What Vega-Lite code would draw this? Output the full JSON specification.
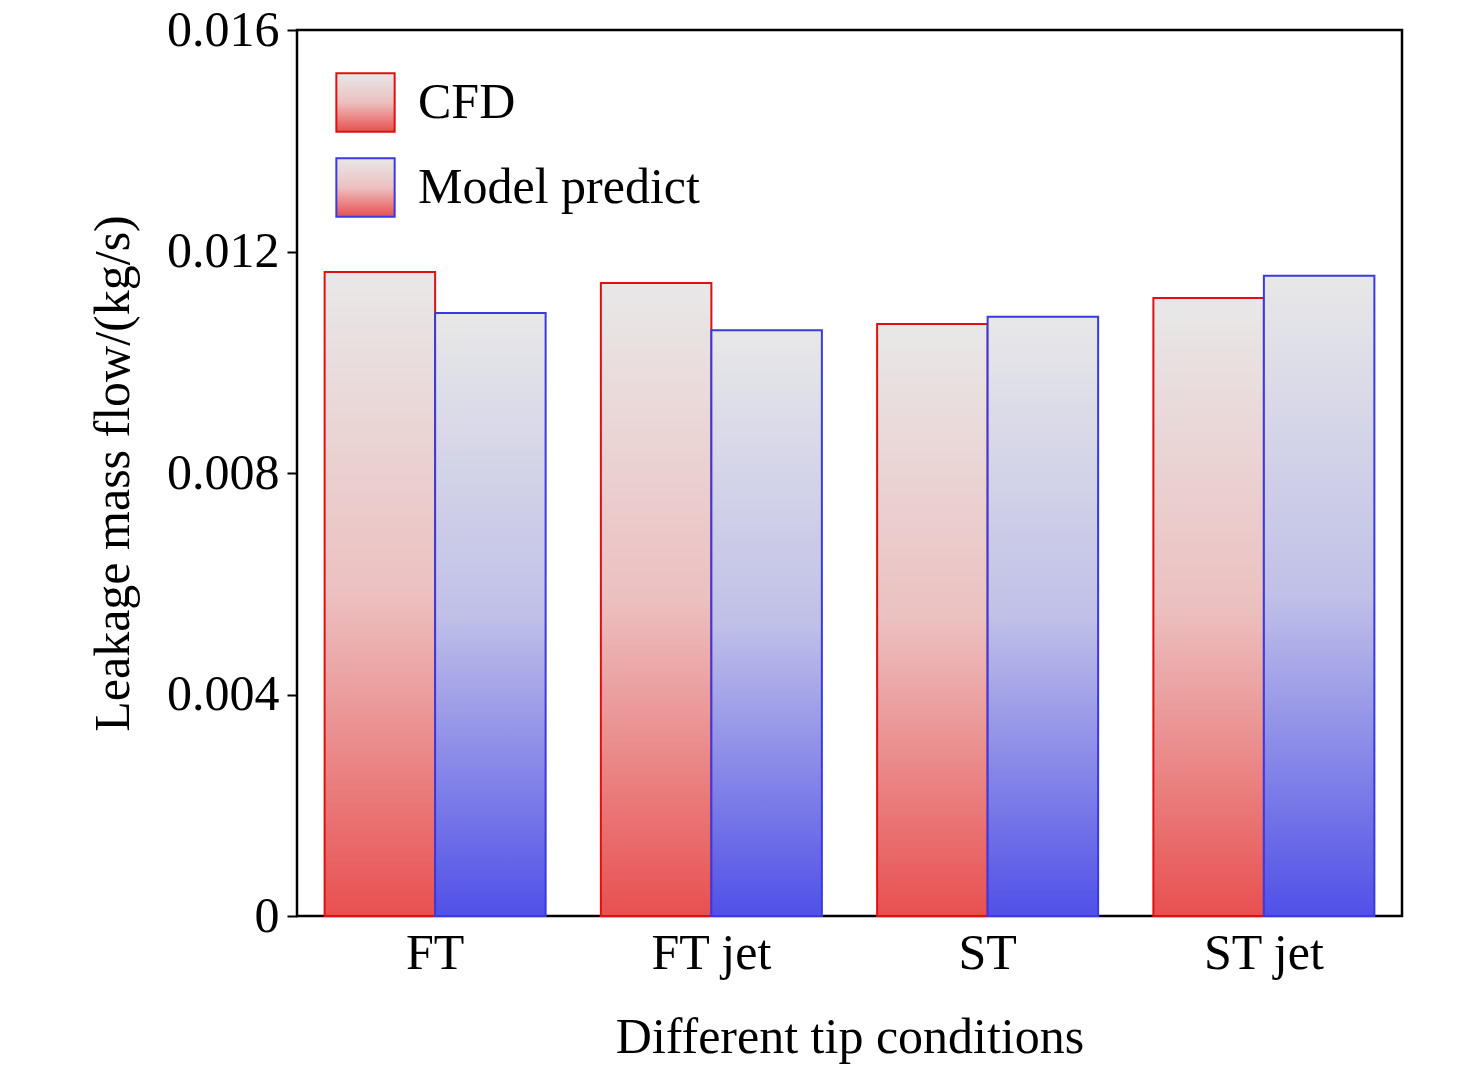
{
  "$schema": "https://vega.github.io/schema/vega-lite/v6.json",
  "width": 1105,
  "height": 886,
  "autosize": "none",
  "padding": {"left": 297, "top": 30, "right": 74, "bottom": 167},
  "background": "white",
  "config": {
    "font": "Liberation Serif",
    "view": {"stroke": "black", "strokeWidth": 2.5},
    "axis": {"labelFont": "Liberation Serif", "titleFont": "Liberation Serif", "labelColor": "black", "titleColor": "black", "titleFontWeight": "normal", "domain": false, "grid": false, "tickColor": "black", "tickWidth": 2}
  },
  "data": {"values": [
    {"cond": "FT", "series": "CFD", "value": 0.01163},
    {"cond": "FT", "series": "Model predict", "value": 0.01089},
    {"cond": "FT jet", "series": "CFD", "value": 0.01143},
    {"cond": "FT jet", "series": "Model predict", "value": 0.01058},
    {"cond": "ST", "series": "CFD", "value": 0.01069},
    {"cond": "ST", "series": "Model predict", "value": 0.01082},
    {"cond": "ST jet", "series": "CFD", "value": 0.01116},
    {"cond": "ST jet", "series": "Model predict", "value": 0.01156}
  ]},
  "encoding": {
    "x": {"field": "cond", "type": "nominal", "sort": ["FT", "FT jet", "ST", "ST jet"],
      "scale": {"paddingInner": 0.2, "paddingOuter": 0.1},
      "axis": {"title": "Different tip conditions", "labelAngle": 0, "labelFontSize": 50, "titleFontSize": 50, "labelPadding": 22, "titlePadding": 34, "tickSize": -10, "tickWidth": 3}},
    "xOffset": {"field": "series", "type": "nominal", "scale": {"domain": ["CFD", "Model predict"], "paddingInner": 0}},
    "y": {"field": "value", "type": "quantitative",
      "scale": {"domain": [0, 0.016], "nice": false},
      "axis": {"title": "Leakage mass flow/(kg/s)", "values": [0, 0.004, 0.008, 0.012, 0.016], "labelExpr": "datum.value == 0 ? '0' : format(datum.value, '.3f')", "labelFontSize": 50, "titleFontSize": 50, "tickSize": 10, "labelPadding": 8, "titlePadding": 28}},
    "stroke": {"field": "series", "type": "nominal",
      "scale": {"domain": ["CFD", "Model predict"], "range": ["#e01010", "#3a3ae0"]},
      "legend": {"title": null, "orient": "none", "legendX": 38, "legendY": 42, "labelFontSize": 50, "labelFont": "Liberation Serif", "labelColor": "black", "labelLimit": 500, "symbolType": "square", "symbolSize": 3400, "symbolStrokeWidth": 2, "rowPadding": 18, "labelOffset": 22}}
  },
  "layer": [
    {
      "transform": [{"filter": "datum.series == 'CFD'"}],
      "mark": {"type": "bar", "strokeWidth": 2,
        "fill": {"gradient": "linear", "x1": 0, "y1": 1, "x2": 0, "y2": 0,
          "stops": [{"offset": 0, "color": "#e85050"}, {"offset": 0.5, "color": "#ecc0c0"}, {"offset": 1, "color": "#e8e8e8"}]}}
    },
    {
      "transform": [{"filter": "datum.series == 'Model predict'"}],
      "mark": {"type": "bar", "strokeWidth": 2,
        "fill": {"gradient": "linear", "x1": 0, "y1": 1, "x2": 0, "y2": 0,
          "stops": [{"offset": 0, "color": "#5050e8"}, {"offset": 0.5, "color": "#c0c0e8"}, {"offset": 1, "color": "#e8e8e8"}]}}
    }
  ]
}
